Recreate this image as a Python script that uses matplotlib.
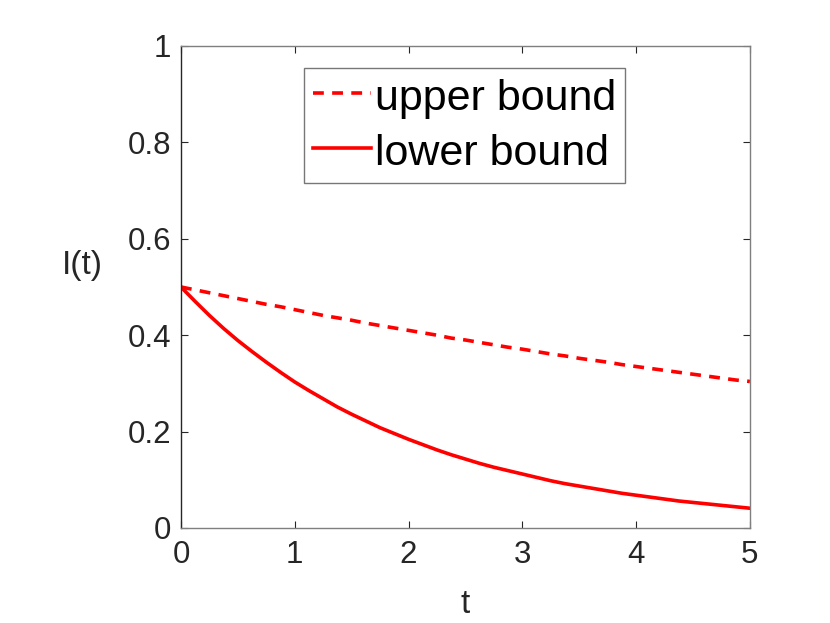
import numpy as np
import matplotlib
matplotlib.use("Agg")
import matplotlib.pyplot as plt

# values (t from 0 to 5 in steps of 0.125)
t = [0.0, 0.125, 0.25, 0.375, 0.5, 0.625, 0.75, 0.875, 1.0, 1.125, 1.25,
     1.375, 1.5, 1.625, 1.75, 1.875, 2.0, 2.125, 2.25, 2.375, 2.5,
     2.625, 2.75, 2.875, 3.0, 3.125, 3.25, 3.375, 3.5, 3.625, 3.75,
     3.875, 4.0, 4.125, 4.25, 4.375, 4.5, 4.625, 4.75, 4.875, 5.0]
upper = [0.500, 0.494, 0.488, 0.482, 0.476, 0.470, 0.464, 0.459, 0.453, 0.447, 0.441,
         0.436, 0.431, 0.425, 0.420, 0.415, 0.410, 0.405, 0.400, 0.394, 0.390,
         0.385, 0.380, 0.375, 0.371, 0.366, 0.361, 0.357, 0.352, 0.348, 0.344,
         0.339, 0.335, 0.331, 0.327, 0.323, 0.319, 0.315, 0.311, 0.307, 0.304]
lower = [0.500, 0.470, 0.441, 0.414, 0.389, 0.366, 0.344, 0.323, 0.303, 0.285, 0.268,
         0.251, 0.236, 0.222, 0.208, 0.196, 0.184, 0.173, 0.162, 0.152, 0.143,
         0.134, 0.126, 0.119, 0.112, 0.105, 0.098, 0.092, 0.087, 0.082, 0.077,
         0.072, 0.068, 0.064, 0.060, 0.056, 0.053, 0.050, 0.047, 0.044, 0.041]
xticks = [0, 1, 2, 3, 4, 5]
yticks = [0, 0.2, 0.4, 0.6, 0.8, 1]
ytick_labels = ["0", "0.2", "0.4", "0.6", "0.8", "1"]

plt.rcParams['font.family'] = ['Liberation Sans', 'DejaVu Sans']

fig = plt.figure(figsize=(8.3, 6.23), dpi=100)
ax = fig.add_axes([0.218, 0.1525, 0.6855, 0.7737])

ax.plot(t, upper, color='red', lw=2.6, dashes=(3, 2.3), label='upper bound')
ax.plot(t, lower, color='red', lw=2.6, label='lower bound')

ax.set_xlim(0, 5)
ax.set_ylim(0, 1)
ax.set_xticks(xticks)
ax.set_yticks(yticks)
ax.set_yticklabels(ytick_labels)

axcol = '#262626'
for s in ax.spines.values():
    s.set_color('#7f7f7f')
    s.set_linewidth(1.0)
ax.spines['left'].set_color(axcol)
ax.tick_params(direction='in', top=True, right=True, length=5, width=0.8,
               labelsize=22.5, colors=axcol)
ax.tick_params(axis='y', pad=7)
ax.tick_params(axis='x', pad=9)

ax.set_xlabel('t', fontsize=24, color=axcol, va='center')
ax.xaxis.set_label_coords(0.5, -0.158)
ax.set_ylabel('I(t)', fontsize=24, color=axcol, rotation=0, va='center', ha='center')
ax.yaxis.set_label_coords(-0.174, 0.544)

leg = ax.legend(loc='upper left', bbox_to_anchor=(0.217, 0.955), fontsize=31,
                frameon=True, fancybox=False, handlelength=1.35, handletextpad=0.1,
                handleheight=1.0, borderpad=0.2, labelspacing=0.28, borderaxespad=0)
leg.get_frame().set_edgecolor('#555555')
leg.get_frame().set_linewidth(1.0)

fig.savefig('out.png', dpi=100)
